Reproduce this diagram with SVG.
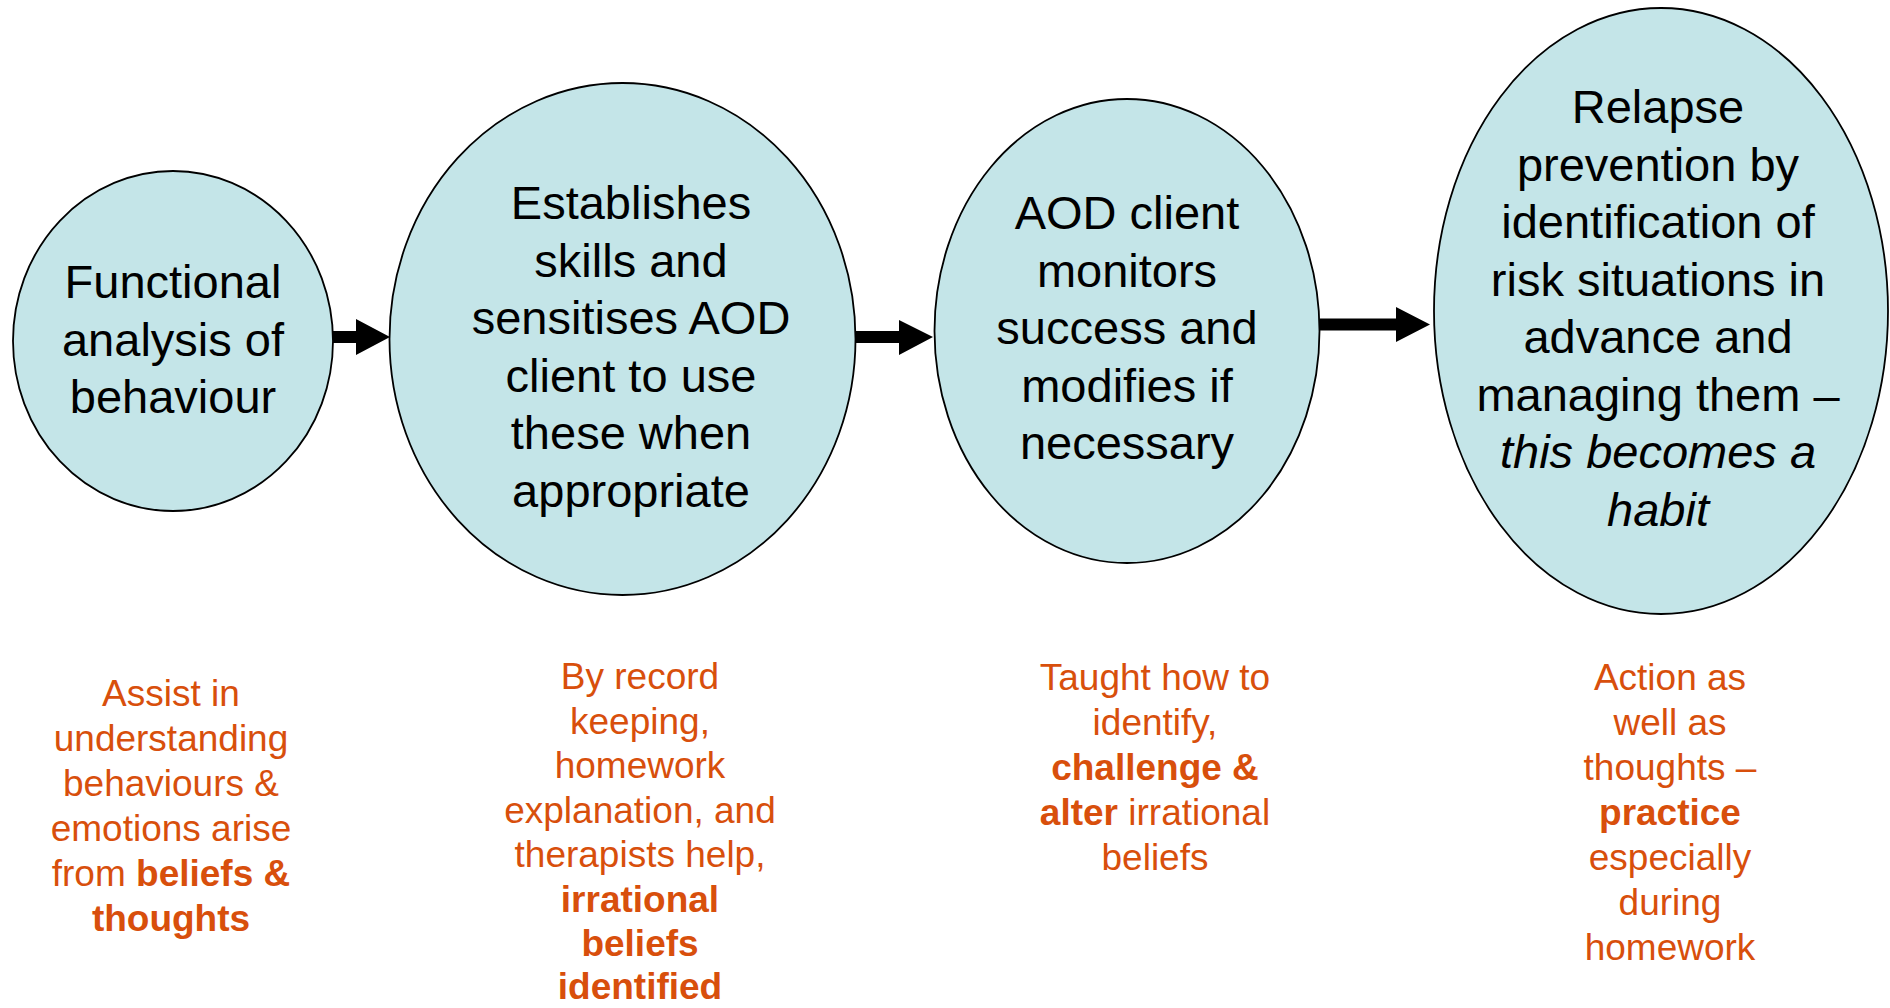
<svg xmlns="http://www.w3.org/2000/svg" width="1890" height="1008" viewBox="0 0 1890 1008">
<style>
.node{fill:#C4E5E8;stroke:#000;stroke-width:1.8}
.nt{font-family:"Liberation Sans",Arial,sans-serif;font-size:47px;fill:#000;text-anchor:middle}
.ot{font-family:"Liberation Sans",Arial,sans-serif;font-size:37px;fill:#D84F0C;text-anchor:middle}
.b{font-weight:bold}
.i{font-style:italic}
.arr{fill:#000}
</style>
<rect width="1890" height="1008" fill="#fff"/>
<g id="connectors">
<polygon class="arr" points="333,331 356,331 356,319 390,337 356,355 356,343 333,343"/>
<polygon class="arr" points="855,331 899,331 899,320 933,337 899,355 899,343 855,343"/>
<polygon class="arr" points="1320,318.5 1396,318.5 1396,307 1430,324.5 1396,342 1396,330.5 1320,330.5"/>
</g>
<g id="node1">
<ellipse class="node" cx="173" cy="341" rx="160" ry="170"/>
<text class="nt"><tspan x="173" y="298">Functional</tspan><tspan x="173" y="355.5">analysis of</tspan><tspan x="173" y="413">behaviour</tspan></text>
</g>
<g id="node2">
<ellipse class="node" cx="622.5" cy="339" rx="233" ry="256"/>
<text class="nt"><tspan x="631" y="219">Establishes</tspan><tspan x="631" y="276.5">skills and</tspan><tspan x="631" y="334">sensitises AOD</tspan><tspan x="631" y="391.5">client to use</tspan><tspan x="631" y="449">these when</tspan><tspan x="631" y="506.5">appropriate</tspan></text>
</g>
<g id="node3">
<ellipse class="node" cx="1127" cy="331" rx="192.5" ry="232"/>
<text class="nt"><tspan x="1127" y="229">AOD client</tspan><tspan x="1127" y="286.5">monitors</tspan><tspan x="1127" y="344">success and</tspan><tspan x="1127" y="401.5">modifies if</tspan><tspan x="1127" y="459">necessary</tspan></text>
</g>
<g id="node4">
<ellipse class="node" cx="1661" cy="311" rx="227" ry="303"/>
<text class="nt"><tspan x="1658" y="123">Relapse</tspan><tspan x="1658" y="180.5">prevention by</tspan><tspan x="1658" y="238">identification of</tspan><tspan x="1658" y="295.5">risk situations in</tspan><tspan x="1658" y="353">advance and</tspan><tspan x="1658" y="410.5">managing them –</tspan><tspan x="1658" y="468" class="i">this becomes a</tspan><tspan x="1658" y="525.5" class="i">habit</tspan></text>
</g>
<g id="note1">
<text class="ot"><tspan x="171" y="706">Assist in</tspan><tspan x="171" y="751">understanding</tspan><tspan x="171" y="796">behaviours &amp;</tspan><tspan x="171" y="841">emotions arise</tspan><tspan x="171" y="886">from <tspan class="b">beliefs &amp;</tspan></tspan><tspan x="171" y="931" class="b">thoughts</tspan></text>
</g>
<g id="note2">
<text class="ot"><tspan x="640" y="689">By record</tspan><tspan x="640" y="733.5">keeping,</tspan><tspan x="640" y="778">homework</tspan><tspan x="640" y="822.5">explanation, and</tspan><tspan x="640" y="867">therapists help,</tspan><tspan x="640" y="911.5" class="b">irrational</tspan><tspan x="640" y="956" class="b">beliefs</tspan><tspan x="640" y="999" class="b">identified</tspan></text>
</g>
<g id="note3">
<text class="ot"><tspan x="1155" y="690">Taught how to</tspan><tspan x="1155" y="735">identify,</tspan><tspan x="1155" y="780" class="b">challenge &amp;</tspan><tspan x="1155" y="825"><tspan class="b">alter</tspan> irrational</tspan><tspan x="1155" y="870">beliefs</tspan></text>
</g>
<g id="note4">
<text class="ot"><tspan x="1670" y="690">Action as</tspan><tspan x="1670" y="735">well as</tspan><tspan x="1670" y="780">thoughts –</tspan><tspan x="1670" y="825" class="b">practice</tspan><tspan x="1670" y="870">especially</tspan><tspan x="1670" y="915">during</tspan><tspan x="1670" y="960">homework</tspan></text>
</g>
</svg>
